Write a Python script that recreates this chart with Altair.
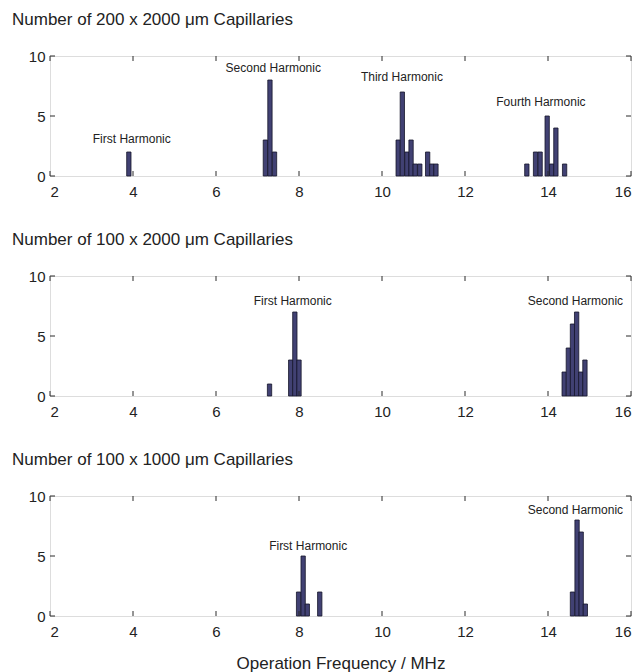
import altair as alt
import pandas as pd

# ---------------- data ----------------
BIN_W = 0.104
TICKS_X = [2, 4, 6, 8, 10, 12, 14, 16]
TICKS_Y = [0, 5, 10]

titles = [
    "Number of 200 x 2000 \u03bcm Capillaries",
    "Number of 100 x 2000 \u03bcm Capillaries",
    "Number of 100 x 1000 \u03bcm Capillaries",
]

p1_freq = [3.90, 7.19, 7.30, 7.41, 10.39, 10.49, 10.60, 10.70, 10.80, 10.91,
           11.10, 11.20, 11.30, 13.49, 13.70, 13.81, 13.98, 14.09, 14.19, 14.40]
p1_count = [2, 3, 8, 2, 3, 7, 2, 3, 1, 1, 2, 1, 1, 1, 2, 2, 5, 1, 4, 1]

p2_freq = [7.29, 7.80, 7.90, 8.00, 14.39, 14.49, 14.59, 14.69, 14.79, 14.89]
p2_count = [1, 3, 7, 3, 2, 4, 6, 7, 2, 3]

p3_freq = [7.99, 8.10, 8.20, 8.50, 14.59, 14.70, 14.80, 14.90]
p3_count = [2, 5, 1, 2, 2, 8, 7, 1]

p1_labels = ["First Harmonic", "Second Harmonic", "Third Harmonic", "Fourth Harmonic"]
p1_lab_x = [3.97, 7.38, 10.48, 13.83]
p1_lab_y = [3.05, 9.0, 8.24, 6.15]

p2_labels = ["First Harmonic", "Second Harmonic"]
p2_lab_x = [7.85, 14.66]
p2_lab_y = [7.91, 7.91]

p3_labels = ["First Harmonic", "Second Harmonic"]
p3_lab_x = [8.22, 14.66]
p3_lab_y = [5.86, 8.86]

X_TITLE = "Operation Frequency / MHz"

# ---------------- layout / style ----------------
W, H = 581, 120
TICK_LEN = 5
FONT = "Liberation Sans"
TXT = "#222222"
FRAME = "#2a2a2a"

xs = alt.Scale(domain=[2, 16], nice=False, zero=False)
ys = alt.Scale(domain=[0, 10], nice=False)


def panel(title, freqs, counts, labels, lab_x, lab_y, show_title):
    x_axis = alt.Axis(values=TICKS_X, ticks=False, domain=False, grid=False,
                      labelPadding=8, labelFontSize=15, labelColor=TXT,
                      labelFont=FONT,
                      title=X_TITLE if show_title else None,
                      titleFontSize=17, titleFontWeight="normal", titleColor=TXT,
                      titleFont=FONT, titlePadding=16)
    y_axis = alt.Axis(values=TICKS_Y, ticks=False, domain=False, grid=False,
                      labelPadding=5, labelFontSize=15, labelColor=TXT,
                      labelFont=FONT, title=None)

    bars_df = pd.DataFrame({"f": freqs, "count": counts})
    bars = alt.Chart(bars_df).transform_calculate(
        x0=f"datum.f - {BIN_W / 2}", x1=f"datum.f + {BIN_W / 2}", base="0"
    ).mark_rect(fill="#414173", stroke="#15152a", strokeWidth=0.8).encode(
        x=alt.X("x0:Q", scale=xs, axis=x_axis),
        x2="x1:Q",
        y=alt.Y("count:Q", scale=ys, axis=y_axis),
        y2="base:Q",
    )

    txt_df = pd.DataFrame({"tx": lab_x, "ty": lab_y, "label": labels})
    texts = alt.Chart(txt_df).mark_text(
        fontSize=12, font=FONT, color=TXT, align="center", baseline="middle"
    ).encode(
        x=alt.X("tx:Q", scale=xs, axis=x_axis),
        y=alt.Y("ty:Q", scale=ys, axis=y_axis),
        text="label:N",
    )

    xt_df = pd.DataFrame({"xt": TICKS_X})
    yt_df = pd.DataFrame({"yt": TICKS_Y})
    tick_style = dict(color=FRAME, strokeWidth=1)
    xt_top = alt.Chart(xt_df).mark_rule(**tick_style).encode(
        x=alt.X("xt:Q", scale=xs, axis=x_axis),
        y=alt.value(0), y2=alt.value(TICK_LEN))
    xt_bot = alt.Chart(xt_df).mark_rule(**tick_style).encode(
        x=alt.X("xt:Q", scale=xs, axis=x_axis),
        y=alt.value(H), y2=alt.value(H - TICK_LEN))
    yt_left = alt.Chart(yt_df).mark_rule(**tick_style).encode(
        y=alt.Y("yt:Q", scale=ys, axis=y_axis),
        x=alt.value(0), x2=alt.value(TICK_LEN))
    yt_right = alt.Chart(yt_df).mark_rule(**tick_style).encode(
        y=alt.Y("yt:Q", scale=ys, axis=y_axis),
        x=alt.value(W), x2=alt.value(W - TICK_LEN))

    return alt.layer(bars, texts, xt_top, xt_bot, yt_left, yt_right).properties(
        width=W, height=H,
        title=alt.TitleParams(title, anchor="start", frame="group", dx=-38,
                              fontSize=17, fontWeight="normal", color=TXT,
                              font=FONT, offset=20),
    )


chart = alt.vconcat(
    panel(titles[0], p1_freq, p1_count, p1_labels, p1_lab_x, p1_lab_y, False),
    panel(titles[1], p2_freq, p2_count, p2_labels, p2_lab_x, p2_lab_y, False),
    panel(titles[2], p3_freq, p3_count, p3_labels, p3_lab_x, p3_lab_y, True),
    spacing=30,
).properties(
    padding={"left": 3, "top": 2, "right": 0, "bottom": 0},
    background="white",
).configure_view(
    stroke=FRAME, strokeWidth=1
).configure(font=FONT)

chart.save("out.html", embed_options={"renderer": "svg", "actions": False})
